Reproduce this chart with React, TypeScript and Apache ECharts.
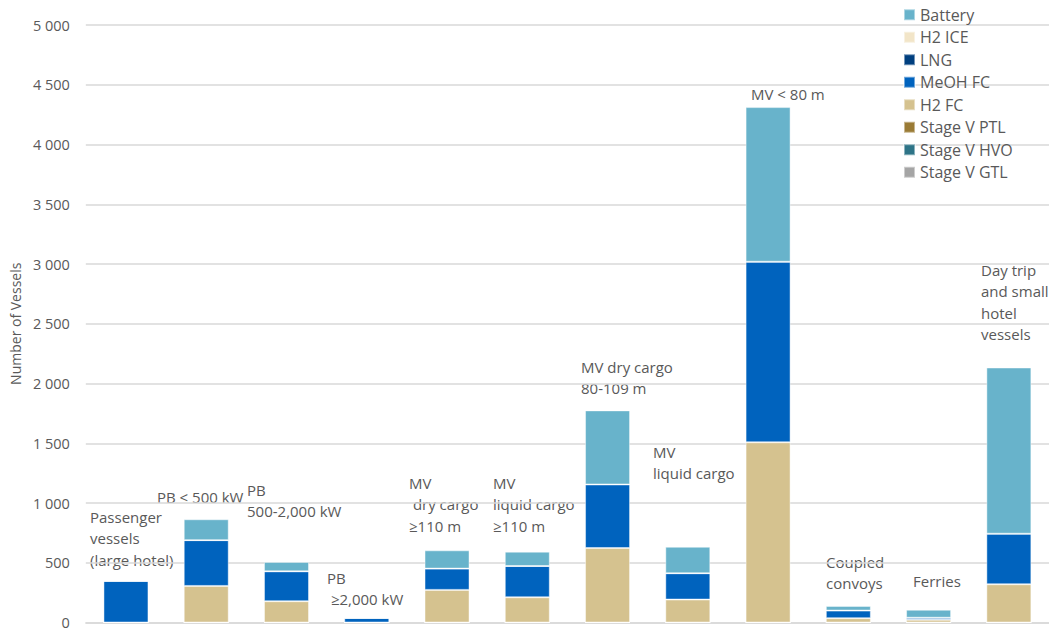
import React, { useEffect, useRef } from "react";
import * as echarts from "echarts";

const categories = [
  "Passenger vessels (large hotel)",
  "PB < 500 kW",
  "PB 500-2,000 kW",
  "PB ≥2,000 kW",
  "MV dry cargo ≥110 m",
  "MV liquid cargo ≥110 m",
  "MV dry cargo 80-109 m",
  "MV liquid cargo",
  "MV < 80 m",
  "Coupled convoys",
  "Ferries",
  "Day trip and small hotel vessels",
];

const stageVGTL = [0, 0, 0, 0, 0, 0, 0, 0, 0, 0, 0, 0];
const stageVHVO = [0, 0, 0, 0, 0, 0, 0, 0, 0, 0, 0, 0];
const stageVPTL = [0, 0, 0, 0, 0, 0, 0, 0, 0, 0, 0, 0];
const h2FC = [0, 306, 178, 0, 273, 211, 623, 192, 1508, 36, 23, 320];
const meohFC = [348, 383, 250, 38, 178, 262, 532, 220, 1511, 64, 17, 423];
const lng = [0, 0, 0, 0, 0, 0, 0, 0, 0, 0, 0, 0];
const h2ICE = [0, 0, 0, 0, 0, 0, 0, 0, 0, 0, 0, 0];
const battery = [0, 175, 79, 0, 153, 120, 620, 222, 1294, 39, 67, 1391];

const yTicks = { min: 0, max: 5000, interval: 500 };

const categoryLabels = [
  "Passenger\nvessels\n(large hotel)",
  "PB < 500 kW",
  "PB\n500-2,000 kW",
  "PB\n ≥2,000 kW",
  "MV\n dry cargo\n≥110 m",
  "MV\nliquid cargo\n≥110 m",
  "MV dry cargo\n80-109 m",
  "MV\nliquid cargo",
  "MV < 80 m",
  "Coupled\nconvoys",
  "Ferries",
  "Day trip\nand small\nhotel\nvessels",
];

// label anchor positions (left x, top y) in pixels
const labelPos: [number, number][] = [
  [90, 506],
  [157, 486],
  [247, 479],
  [327, 567],
  [409, 472],
  [493, 472],
  [581, 356],
  [653, 441],
  [751, 83],
  [826, 551],
  [913, 570],
  [981, 259],
];

const FONT = "'Open Sans', sans-serif";
const TXT = "#595959";

export default function App() {
  const ref = useRef<HTMLDivElement>(null);
  useEffect(() => {
    if (!ref.current) return;
    const chart = echarts.init(ref.current, null, { renderer: "svg" });
    const border = { borderColor: "rgba(255,255,255,0.45)", borderWidth: 1 };
    const mk = (name: string, data: number[], color: string) => ({
      name,
      type: "bar",
      stack: "total",
      data,
      barWidth: 45,
      itemStyle: { color, ...border },
      emphasis: { disabled: true },
    });
    chart.setOption({
      animation: false,
      textStyle: { fontFamily: FONT },
      grid: { left: 82, right: -5, top: 25, bottom: 6, containLabel: false },
      legend: {
        orient: "vertical",
        left: 903,
        top: 6,
        padding: 0,
        itemWidth: 11,
        itemHeight: 11,
        itemGap: 5,
        icon: "rect",
        textStyle: {
          color: TXT,
          fontSize: 16,
          lineHeight: 17.5,
          fontFamily: FONT,
        },
        data: [
          "Battery",
          "H2 ICE",
          "LNG",
          "MeOH FC",
          "H2 FC",
          "Stage V PTL",
          "Stage V HVO",
          "Stage V GTL",
        ],
      },
      xAxis: {
        type: "category",
        data: categories,
        axisLine: { show: true, lineStyle: { color: "#d9d9d9", width: 1.5 } },
        axisTick: { show: false },
        axisLabel: { show: false },
      },
      yAxis: {
        type: "value",
        min: yTicks.min,
        max: yTicks.max,
        interval: yTicks.interval,
        name: "Number of Vessels",
        nameLocation: "middle",
        nameGap: 61,
        nameTextStyle: { color: TXT, fontSize: 14, fontFamily: FONT },
        axisLine: { show: false },
        axisTick: { show: false },
        splitLine: { lineStyle: { color: "#d9d9d9", width: 1.5 } },
        axisLabel: {
          color: TXT,
          fontSize: 14.5,
          margin: 16,
          fontFamily: FONT,
          formatter: (v: number) =>
            String(v).replace(/\B(?=(\d{3})+(?!\d))/g, " "),
        },
      },
      graphic: categoryLabels.map((t, i) => ({
        type: "text",
        left: labelPos[i][0],
        top: labelPos[i][1],
        silent: true,
        style: {
          text: t,
          fill: TXT,
          fontSize: 15,
          fontFamily: FONT,
          lineHeight: 21.5,
        },
      })),
      series: [
        mk("Stage V GTL", stageVGTL, "#a5a5a5"),
        mk("Stage V HVO", stageVHVO, "#2e7487"),
        mk("Stage V PTL", stageVPTL, "#9a7b35"),
        mk("H2 FC", h2FC, "#d5c28f"),
        mk("MeOH FC", meohFC, "#0063be"),
        mk("LNG", lng, "#003f7f"),
        mk("H2 ICE", h2ICE, "#f2e5c8"),
        mk("Battery", battery, "#68b3cb"),
      ],
    });
    return () => chart.dispose();
  }, []);
  return (
    <div
      ref={ref}
      style={{ position: "absolute", left: 0, top: 0, width: 1049, height: 630 }}
    />
  );
}
